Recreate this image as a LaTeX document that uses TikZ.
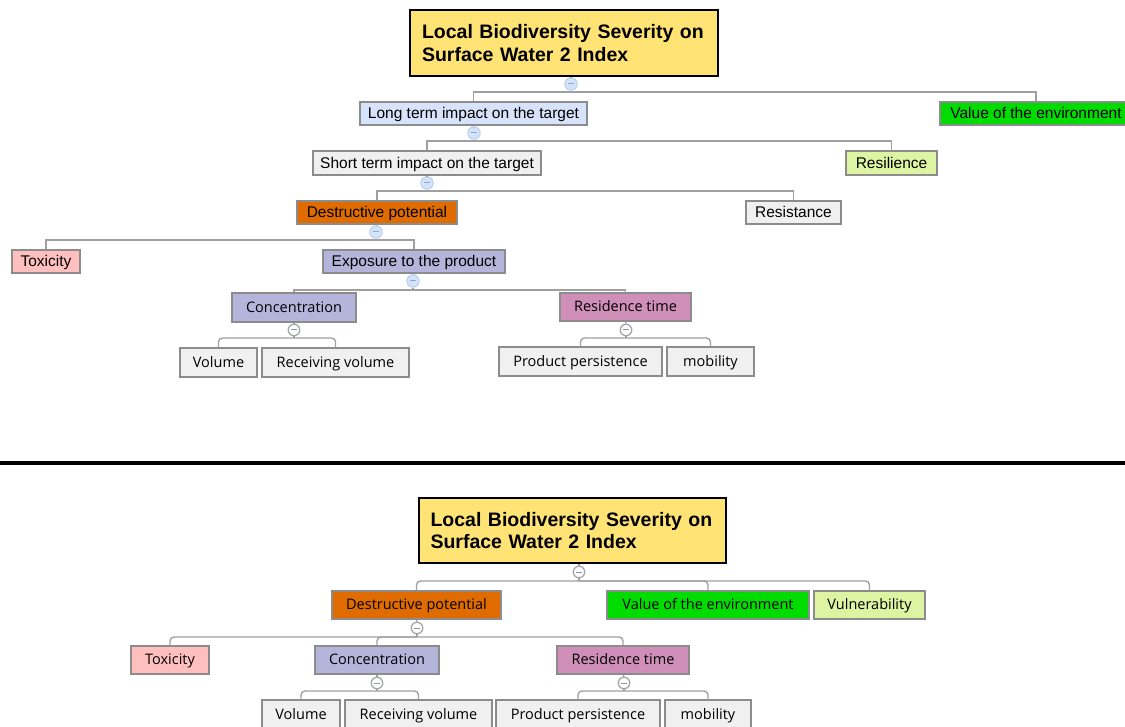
\documentclass[tikz,border=0pt]{standalone}
\usepackage{fontspec}
\setmainfont{Liberation Sans}
\newfontfamily\arialf{Liberation Sans}
\newfontfamily\segoef{Open Sans}
\definecolor{titlefill}{HTML}{FFE375}
\definecolor{ltblue}{HTML}{D6E3FB}
\definecolor{envgreen}{HTML}{00DC00}
\definecolor{boxgray}{HTML}{F0F0F0}
\definecolor{resil}{HTML}{DDF4A2}
\definecolor{destr}{HTML}{E06C00}
\definecolor{toxic}{HTML}{FFBFBF}
\definecolor{lavender}{HTML}{B5B5DC}
\definecolor{mauve}{HTML}{D08FB8}
\definecolor{bordergray}{HTML}{8C8C8C}
\definecolor{conngray}{HTML}{A0A0A0}
\definecolor{circblue}{HTML}{D4E2FA}
\definecolor{circblueb}{HTML}{B4C8EC}
\definecolor{minusblue}{HTML}{8AA8DC}
\definecolor{minusgray}{HTML}{8896B4}
\definecolor{ringgray}{HTML}{A4A4A4}
\tikzset{
  box/.style={draw=bordergray, line width=1.2pt, inner sep=0pt, text=black,
    font=\arialf\fontsize{15.5}{18}\selectfont, text height=11pt, text depth=0.5pt},
  sbox/.style={box, font=\segoef\fontsize{14.5}{17}\selectfont, text height=10.4pt, text depth=0.5pt},
  titlebox/.style={draw=black, line width=2.5pt, fill=titlefill, inner sep=0pt,
    align=left, text width=284pt,
    font=\arialf\bfseries\fontsize{19.5}{22.5}\selectfont},
  conn/.style={draw=conngray, line width=1.4pt},
  rconn/.style={conn, rounded corners=4pt},
  tog/.style={circle, draw=circblueb, fill=circblue, minimum size=12.5pt, inner sep=0pt,
    line width=0.8pt,
    path picture={\draw[line width=1pt, minusblue]
      ([xshift=-3pt]path picture bounding box.center) --
      ([xshift=3pt]path picture bounding box.center);}},
  stog/.style={circle, draw=ringgray, fill=white, minimum size=11.5pt, inner sep=0pt,
    line width=1.3pt,
    path picture={\draw[line width=1pt, minusgray]
      ([xshift=-2.8pt]path picture bounding box.center) --
      ([xshift=2.8pt]path picture bounding box.center);}},
  sep/.style={line width=3.5pt, black}
}
\newcommand{\bx}[7]{\node[#6, minimum width={(#4-#2)*1pt}, minimum height={(#5-#3)*1pt}]
  (#1) at ({(#2+#4)/2},{(#3+#5)/2}) {#7};}
\begin{document}
\begin{tikzpicture}[x=1pt,y=-1pt]
\useasboundingbox (0,0) rectangle (1125,727);
% ---------- top diagram ----------
\bx{tA}{410}{10}{718}{76}{titlebox}{Local Biodiversity Severity on\\Surface Water 2 Index}
\bx{lt}{360}{102}{587}{125}{box,fill=ltblue}{Long term impact on the target}
\bx{ve}{940}{102}{1132}{125}{box,fill=envgreen}{Value of the environment}
\bx{st}{313}{151}{541}{175}{box,fill=boxgray}{Short term impact on the target}
\bx{rl}{846}{151}{937}{175}{box,fill=resil}{Resilience}
\bx{dp}{297}{201}{457}{224}{box,fill=destr}{Destructive potential}
\bx{rs}{746}{201}{841}{224}{box,fill=boxgray}{Resistance}
\bx{tx}{12}{250}{80}{273}{box,fill=toxic}{Toxicity}
\bx{ex}{323}{250}{505}{273}{box,fill=lavender}{Exposure to the product}
\bx{cc}{232}{293}{356}{322}{sbox,fill=lavender}{Concentration}
\bx{rt}{560}{293}{691}{321}{sbox,fill=mauve}{Residence time}
\bx{vo}{180}{348}{257}{377}{sbox,fill=boxgray}{Volume}
\bx{rv}{262}{348}{409}{377}{sbox,fill=boxgray}{Receiving volume}
\bx{pp}{499}{347}{662}{376}{sbox,fill=boxgray}{Product persistence}
\bx{mo}{667}{347}{754}{376}{sbox,fill=boxgray}{mobility}
\node[tog] (c1) at (571,84) {};
\node[tog] (c2) at (474,133) {};
\node[tog] (c3) at (427,183) {};
\node[tog] (c4) at (376,232) {};
\node[tog] (c5) at (413,281) {};
\node[stog] (c6) at (294,330) {};
\node[stog] (c7) at (626,330) {};
\draw[conn] (c1 |- tA.south) -- (c1.north);
\draw[conn] (c1.south) -- (c1 |- 0,92) -| (lt.north);
\draw[conn] (c1 |- 0,92) -| (ve.north);
\draw[conn] (lt.south) -- (c2.north);
\draw[conn] (c2.south) -- (c2 |- 0,141) -| (st.north);
\draw[conn] (c2 |- 0,141) -| (rl.north);
\draw[conn] (st.south) -- (c3.north);
\draw[conn] (c3.south) -- (c3 |- 0,191) -| (dp.north);
\draw[conn] (c3 |- 0,191) -| (rs.north);
\draw[conn] (dp.south) -- (c4.north);
\draw[conn] (c4.south) -- (c4 |- 0,240) -| (tx.north);
\draw[conn] (c4 |- 0,240) -| (ex.north);
\draw[conn] (ex.south) -- (c5.north);
\draw[conn] (c5.south) -- (c5 |- 0,290) -| (cc.north);
\draw[conn] (c5 |- 0,290) -| (rt.north);
\draw[conn] (cc.south) -- (c6.north);
\draw[conn] (c6.south) -- (c6 |- 0,338);
\draw[rconn] (c6 |- 0,338) -| (vo.north);
\draw[rconn] (c6 |- 0,338) -| (rv.north);
\draw[conn] (rt.south) -- (c7.north);
\draw[conn] (c7.south) -- (c7 |- 0,338);
\draw[rconn] (c7 |- 0,338) -| (pp.north);
\draw[rconn] (c7 |- 0,338) -| (mo.north);
% ---------- separator ----------
\draw[sep] (0,463) -- (1125,463);
% ---------- bottom diagram ----------
\bx{tB}{419}{498}{726}{563}{titlebox}{Local Biodiversity Severity on\\Surface Water 2 Index}
\bx{dp2}{332}{591}{501}{619}{sbox,fill=destr}{Destructive potential}
\bx{ve2}{607}{591}{809}{619}{sbox,fill=envgreen}{Value of the environment}
\bx{vu2}{814}{591}{925}{619}{sbox,fill=resil}{Vulnerability}
\bx{tx2}{131}{646}{209}{674}{sbox,fill=toxic}{Toxicity}
\bx{cc2}{315}{646}{439}{674}{sbox,fill=lavender}{Concentration}
\bx{rt2}{557}{646}{689}{674}{sbox,fill=mauve}{Residence time}
\bx{vo2}{262}{700}{340}{729}{sbox,fill=boxgray}{Volume}
\bx{rv2}{345}{700}{492}{729}{sbox,fill=boxgray}{Receiving volume}
\bx{pp2}{496}{700}{660}{729}{sbox,fill=boxgray}{Product persistence}
\bx{mo2}{665}{700}{751}{729}{sbox,fill=boxgray}{mobility}
\node[stog] (d1) at (579,572) {};
\node[stog] (d2) at (417,628) {};
\node[stog] (d3) at (377,683) {};
\node[stog] (d4) at (624,683) {};
\draw[conn] (d1 |- tB.south) -- (d1.north);
\draw[conn] (d1.south) -- (d1 |- 0,581);
\draw[rconn] (d1 |- 0,581) -| (dp2.north);
\draw[rconn] (d1 |- 0,581) -| (ve2.north);
\draw[rconn] (d1 |- 0,581) -| (vu2.north);
\draw[conn] (dp2.south) -- (d2.north);
\draw[conn] (d2.south) -- (d2 |- 0,637);
\draw[rconn] (d2 |- 0,637) -| (tx2.north);
\draw[rconn] (d2 |- 0,637) -| (cc2.north);
\draw[rconn] (d2 |- 0,637) -| (rt2.north);
\draw[conn] (cc2.south) -- (d3.north);
\draw[conn] (d3.south) -- (d3 |- 0,691);
\draw[rconn] (d3 |- 0,691) -| (vo2.north);
\draw[rconn] (d3 |- 0,691) -| (rv2.north);
\draw[conn] (rt2.south) -- (d4.north);
\draw[conn] (d4.south) -- (d4 |- 0,691);
\draw[rconn] (d4 |- 0,691) -| (pp2.north);
\draw[rconn] (d4 |- 0,691) -| (mo2.north);
\end{tikzpicture}
\end{document}
